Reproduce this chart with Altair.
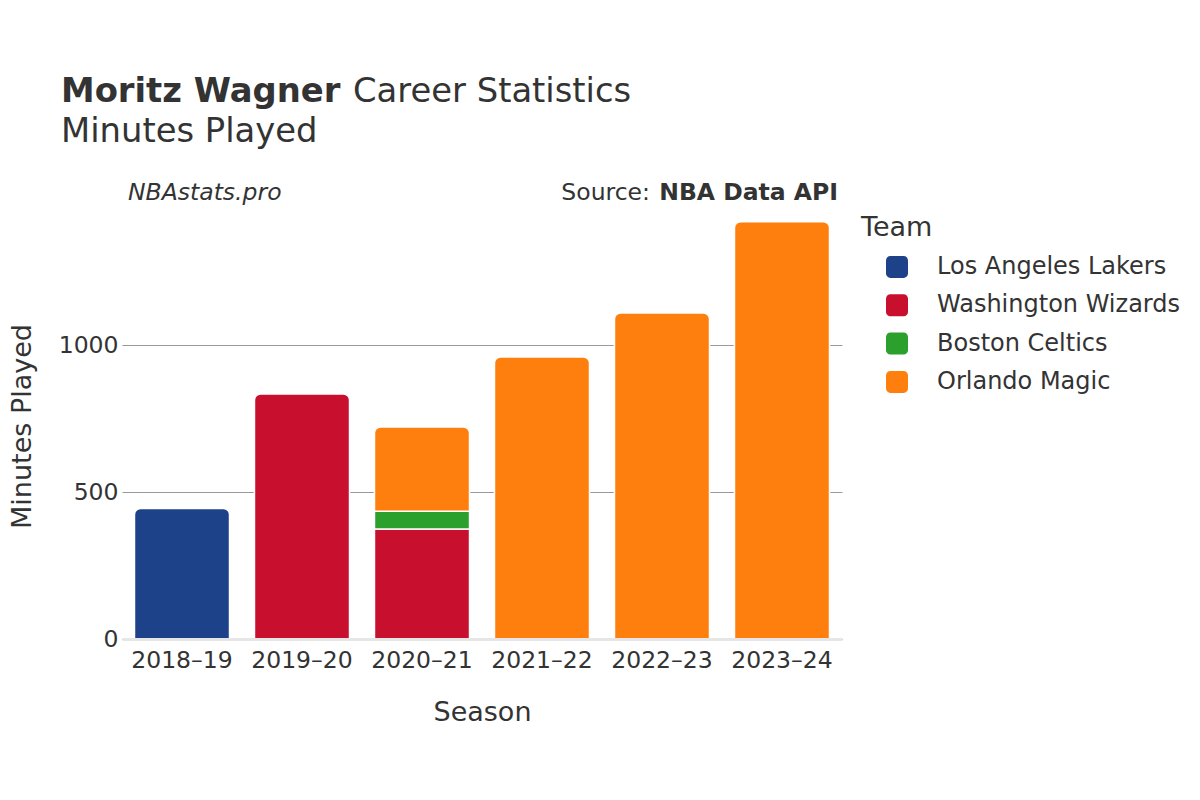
import altair as alt
import pandas as pd

# ---- data ----
seasons = ["2018–19", "2019–20", "2020–21", "2020–21", "2020–21", "2021–22", "2022–23", "2023–24"]
teams = ["Los Angeles Lakers", "Washington Wizards", "Washington Wizards", "Boston Celtics",
         "Orlando Magic", "Orlando Magic", "Orlando Magic", "Orlando Magic"]
minutes = [444, 834, 374, 61, 287, 960, 1110, 1420]
stack_order = [0, 0, 0, 1, 2, 0, 0, 0]
is_top = [1, 1, 0, 0, 1, 1, 1, 1]

season_order = ["2018–19", "2019–20", "2020–21", "2021–22", "2022–23", "2023–24"]
team_names = ["Los Angeles Lakers", "Washington Wizards", "Boston Celtics", "Orlando Magic"]
team_colors = ["#1D428A", "#C8102E", "#2CA02C", "#FF7F0E"]
y_ticks = [0, 500, 1000]

df = pd.DataFrame(dict(season=seasons, team=teams, minutes=minutes,
                       order=stack_order, top=is_top))

FONT = "DejaVu Sans"
TXT = "#333333"
rounded = ("M-0.6,-1H0.6A0.4,0.4 0 0 1 1,-0.6V0.6A0.4,0.4 0 0 1 0.6,1H-0.6"
           "A0.4,0.4 0 0 1 -1,0.6V-0.6A0.4,0.4 0 0 1 -0.6,-1Z")

x_enc = alt.X("season:N", sort=season_order,
              scale=alt.Scale(domain=season_order, paddingInner=0.208, paddingOuter=0.104),
              axis=alt.Axis(title="Season", labelAngle=0, labelFontSize=23.5, labelPadding=9,
                            ticks=False, domain=True, domainColor="#e6e6e6", domainWidth=3,
                            titleFontSize=27, titlePadding=28, titleFontWeight="normal",
                            labelColor=TXT, titleColor=TXT, labelFont=FONT, titleFont=FONT,
                            zindex=1))
y_enc = alt.Y("y1:Q", scale=alt.Scale(domain=[0, 1450], nice=False),
              axis=alt.Axis(title="Minutes Played", values=y_ticks, format="d", grid=True,
                            gridColor="#999999", gridWidth=1, ticks=False, domain=False,
                            labelFontSize=23.5, labelPadding=4, titleFontSize=27,
                            titlePadding=22, titleFontWeight="normal",
                            labelColor=TXT, titleColor=TXT, labelFont=FONT, titleFont=FONT))
color_enc = alt.Color("team:N",
                      scale=alt.Scale(domain=team_names, range=team_colors),
                      legend=alt.Legend(orient="none", legendX=763, legendY=42, title=None,
                                        symbolType=rounded, symbolSize=484,
                                        symbolStrokeWidth=0, labelFontSize=24,
                                        labelFont=FONT, labelColor=TXT, labelOffset=28,
                                        labelLimit=400, rowPadding=14.3, padding=0))

base = alt.Chart(df).transform_stack(
    stack="minutes", groupby=["season"], as_=["y0", "y1"],
    sort=[alt.SortField("order", order="ascending")])

lower = base.transform_filter("datum.top == 0").mark_bar(
    stroke="white", strokeWidth=1.5
).encode(x=x_enc, y=y_enc, y2="y0:Q", color=color_enc)

upper = base.transform_filter("datum.top == 1").mark_bar(
    stroke="white", strokeWidth=1.5, cornerRadiusTopLeft=6, cornerRadiusTopRight=6
).encode(x=x_enc, y=y_enc, y2="y0:Q", color=color_enc)


def txt(s, x, y, size, weight="normal", style="normal", align="left"):
    return alt.Chart(pd.DataFrame({"t": [s]})).mark_text(
        text=s, font=FONT, fontSize=size, fontWeight=weight, fontStyle=style,
        align=align, baseline="alphabetic", color=TXT
    ).encode(x=alt.value(x), y=alt.value(y))


texts = [
    txt("Moritz Wagner", -61, -111, 33.8, weight="bold"),
    txt("Career Statistics", 231, -111, 33.8),
    txt("Minutes Played", -61, -71, 33.8),
    txt("NBAstats.pro", 6, -13, 23.5, style="italic"),
    txt("NBA Data API", 716, -13, 23.5, weight="bold", align="right"),
    txt("Source:", 528, -13, 23.5, align="right"),
    txt("Team", 739, 23, 27),
]

chart = alt.layer(lower, upper, *texts).properties(
    width=720, height=426,
    padding={"left": 114, "top": 205, "right": 350, "bottom": 100},
    autosize=alt.AutoSizeParams(type="none"),
).configure_view(stroke=None)

chart.save("out.html", embed_options={"renderer": "svg", "actions": False})
